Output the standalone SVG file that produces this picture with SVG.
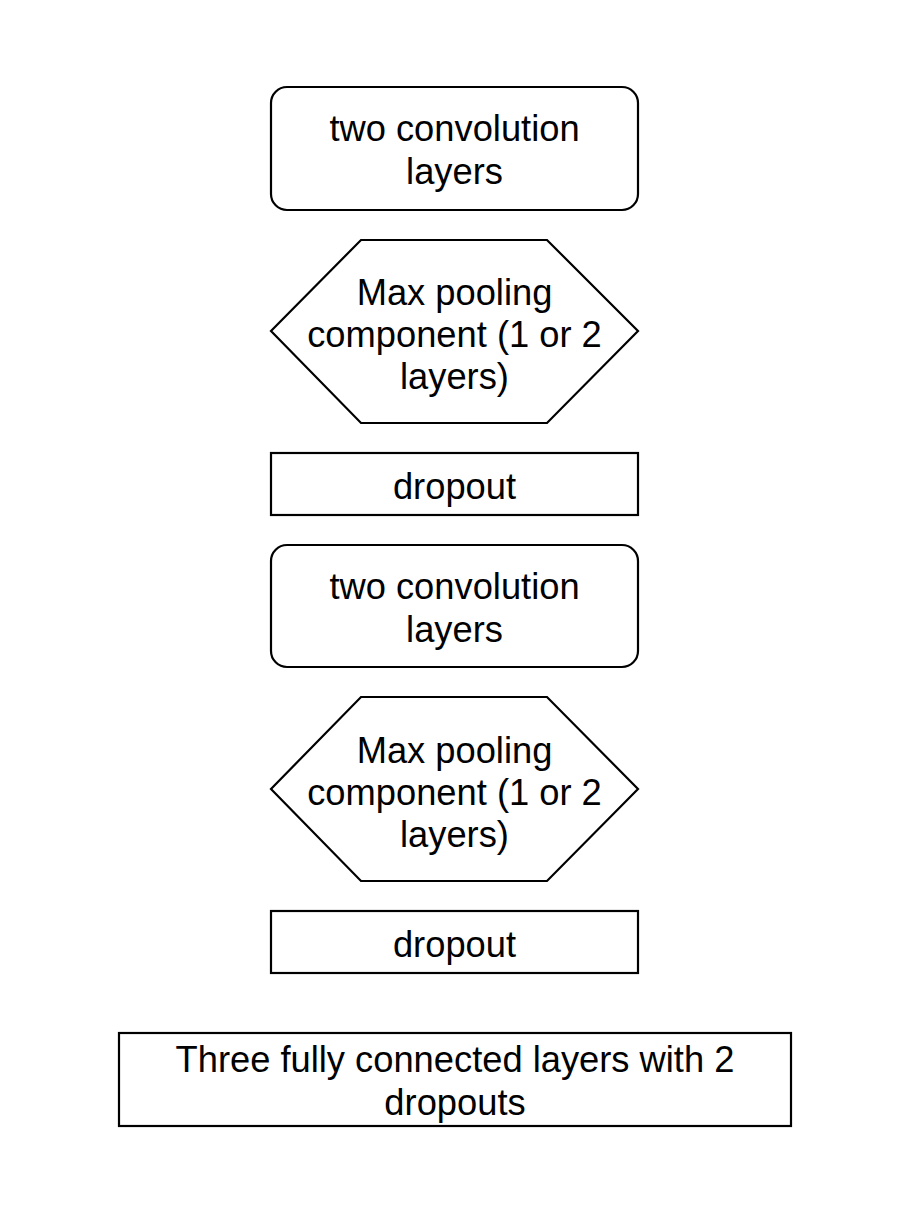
<svg xmlns="http://www.w3.org/2000/svg" width="912" height="1220" viewBox="0 0 912 1220">
<style>
.s{fill:#fff;stroke:#000;stroke-width:2.2}
text{font-family:"Liberation Sans",Arial,sans-serif;font-size:36.3px;fill:#000;text-anchor:middle}
</style>
<rect width="912" height="1220" fill="#fff"/>
<g id="conv1"><rect class="s" x="271" y="87" width="367" height="123" rx="16"/><text x="454.5" y="141">two convolution</text><text x="454.5" y="184">layers</text></g>
<g id="pool1"><polygon class="s" points="361,240 547,240 638,331 547,423 361,423 271,331"/><text x="454.5" y="305">Max pooling</text><text x="454.5" y="347">component (1 or 2</text><text x="454.5" y="389">layers)</text></g>
<g id="drop1"><rect class="s" x="271" y="453" width="367" height="62"/><text x="454.5" y="499">dropout</text></g>
<g id="conv2"><rect class="s" x="271" y="545" width="367" height="122" rx="16"/><text x="454.5" y="599">two convolution</text><text x="454.5" y="642">layers</text></g>
<g id="pool2"><polygon class="s" points="361,697 547,697 638,789 547,881 361,881 271,789"/><text x="454.5" y="763">Max pooling</text><text x="454.5" y="805">component (1 or 2</text><text x="454.5" y="847">layers)</text></g>
<g id="drop2"><rect class="s" x="271" y="911" width="367" height="62"/><text x="454.5" y="957">dropout</text></g>
<g id="fc"><rect class="s" x="119" y="1033" width="672" height="93"/><text x="455" y="1072">Three fully connected layers with 2</text><text x="455" y="1115">dropouts</text></g>
<g id="connectors"/>
</svg>
